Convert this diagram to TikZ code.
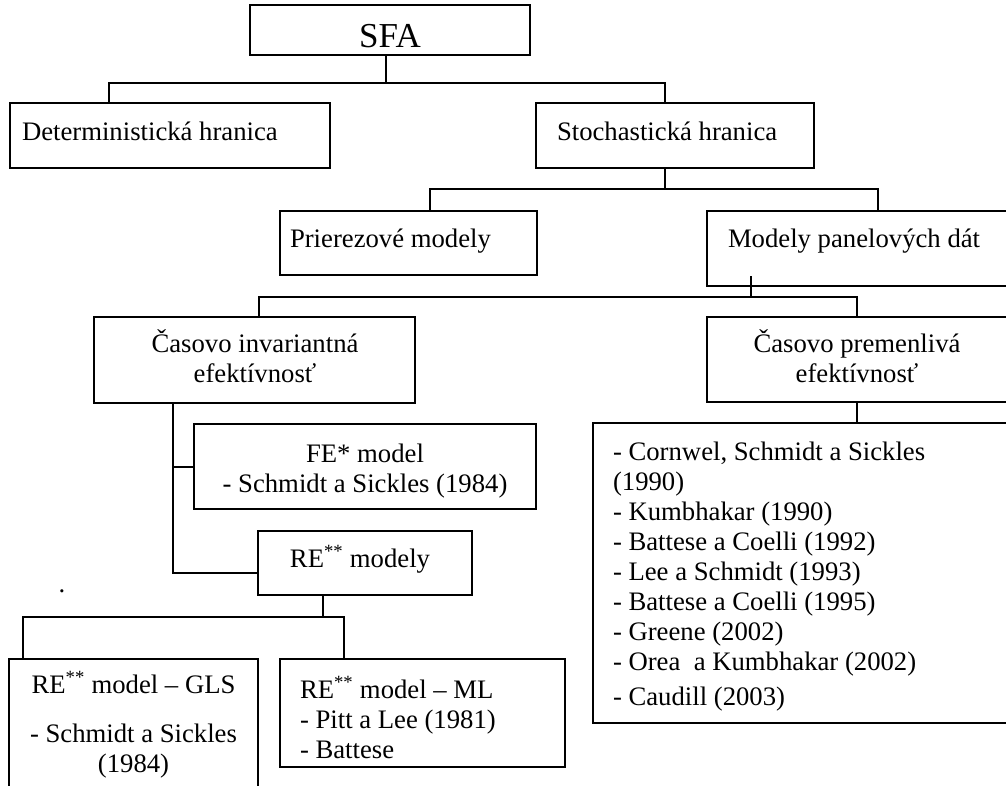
\documentclass[tikz,border=0pt]{standalone}
\usepackage{fontspec}
\setmainfont{Liberation Serif}
\begin{document}
\begin{tikzpicture}[x=1pt,y=-1pt,
  box/.style={draw, line width=1.4pt, inner sep=0pt, outer sep=0pt},
  txt/.style={inner sep=0pt, outer sep=0pt, font=\fontsize{26.7}{30}\selectfont},
  conn/.style={line width=1.4pt}]
\useasboundingbox (0,0) rectangle (1006,785);
\clip (0,0) rectangle (1006,785);

% boxes
\node[box, minimum width=280pt, minimum height=50pt] (sfa) at (390,30) {};
\node[box, minimum width=320pt, minimum height=65pt] (det) at (170,135.5) {};
\node[box, minimum width=278pt, minimum height=65pt] (stoch) at (675,135.5) {};
\node[box, minimum width=257pt, minimum height=64pt] (prier) at (408.5,243) {};
\node[box, minimum width=305pt, minimum height=75pt] (panel) at (859.5,248.5) {};
\node[box, minimum width=321pt, minimum height=86pt] (inv) at (254.5,360) {};
\node[box, minimum width=305pt, minimum height=85pt] (prem) at (859.5,359.5) {};
\node[box, minimum width=342pt, minimum height=85pt] (fe) at (365,466.5) {};
\node[box, minimum width=419pt, minimum height=300pt] (list) at (802.5,573) {};
\node[box, minimum width=214pt, minimum height=64pt] (re) at (365,563) {};
\node[box, minimum width=249pt, minimum height=141pt] (gls) at (133.5,729.5) {};
\node[box, minimum width=285pt, minimum height=108pt] (ml) at (422.5,713) {};

% texts (base anchor of a multi-line node = baseline of its last line)
\node[txt, font=\fontsize{35}{40}\selectfont, anchor=base] (sfat) at (390,47) {SFA};
\node[txt, anchor=base west] (dett) at (22,140) {Deterministická hranica};
\node[txt, anchor=base west] (stocht) at (557,140) {Stochastická hranica};
\node[txt, anchor=base west] (priert) at (290,247) {Prierezové modely};
\node[txt, anchor=base west] (panelt) at (728,247) {Modely panelových dát};
\node[txt, anchor=base, align=center] (invt) at (255,382) {Časovo invariantná\\efektívnosť};
\node[txt, anchor=base, align=center] (premt) at (857,382) {Časovo premenlivá\\efektívnosť};
\node[txt, anchor=base, align=center] (fet) at (365,492) {FE* model\\- Schmidt a Sickles (1984)};
\node[txt, anchor=base] (ret) at (360,567) {RE\textsuperscript{**} modely};
\node[txt, anchor=base, align=center] (glst) at (133.5,772) {RE\textsuperscript{**} model – GLS\\[19pt]- Schmidt a Sickles\\(1984)};
\node[txt, anchor=base west, align=left] (mlt) at (300,758) {RE\textsuperscript{**} model – ML\\- Pitt a Lee (1981)\\- Battese};
\node[txt, anchor=base west, align=left] (listt) at (613,705) {- Cornwel, Schmidt a Sickles\\(1990)\\- Kumbhakar (1990)\\- Battese a Coelli (1992)\\- Lee a Schmidt (1993)\\- Battese a Coelli (1995)\\- Greene (2002)\\- Orea~~a Kumbhakar (2002)\\[5pt]- Caudill (2003)};
\node[txt, anchor=base] (dot) at (62,592) {.};

% connectors
\coordinate (h1s) at (386,83);
\coordinate (h1a) at (109,83);
\coordinate (h1b) at (665,83);
\draw[conn] (sfa.south -| h1s) -- (h1s);
\draw[conn] (det.north -| h1a) -- (h1a) -- (h1b) -- (stoch.north -| h1b);

\coordinate (h2s) at (665,189);
\coordinate (h2a) at (430,189);
\coordinate (h2b) at (878,189);
\draw[conn] (stoch.south -| h2s) -- (h2s);
\draw[conn] (prier.north -| h2a) -- (h2a) -- (h2b) -- (panel.north -| h2b);

\coordinate (p0) at (751,276);
\coordinate (h3s) at (751,297);
\coordinate (h3a) at (259,297);
\coordinate (h3b) at (857,297);
\coordinate (t1) at (537,297);
\coordinate (t2) at (685,297);
\draw[conn] (p0) -- (h3s);
\draw[conn] (inv.north -| h3a) -- (h3a) -- (h3b) -- (prem.north -| h3b);
\draw[line width=2.2pt] (t1) -- (t2);
\draw[conn] (prem.south -| h3b) -- (list.north -| h3b);

\coordinate (v1) at (173,573);
\coordinate (v2) at (173,467);
\draw[conn] (inv.south -| v1) -- (v1) -- (v1 -| re.west);
\draw[conn] (v2) -- (v2 -| fe.west);

\coordinate (h4s) at (323,617);
\coordinate (h4a) at (23,617);
\coordinate (h4b) at (344,617);
\draw[conn] (re.south -| h4s) -- (h4s);
\draw[conn] (gls.north -| h4a) -- (h4a) -- (h4b) -- (ml.north -| h4b);
\end{tikzpicture}
\end{document}
